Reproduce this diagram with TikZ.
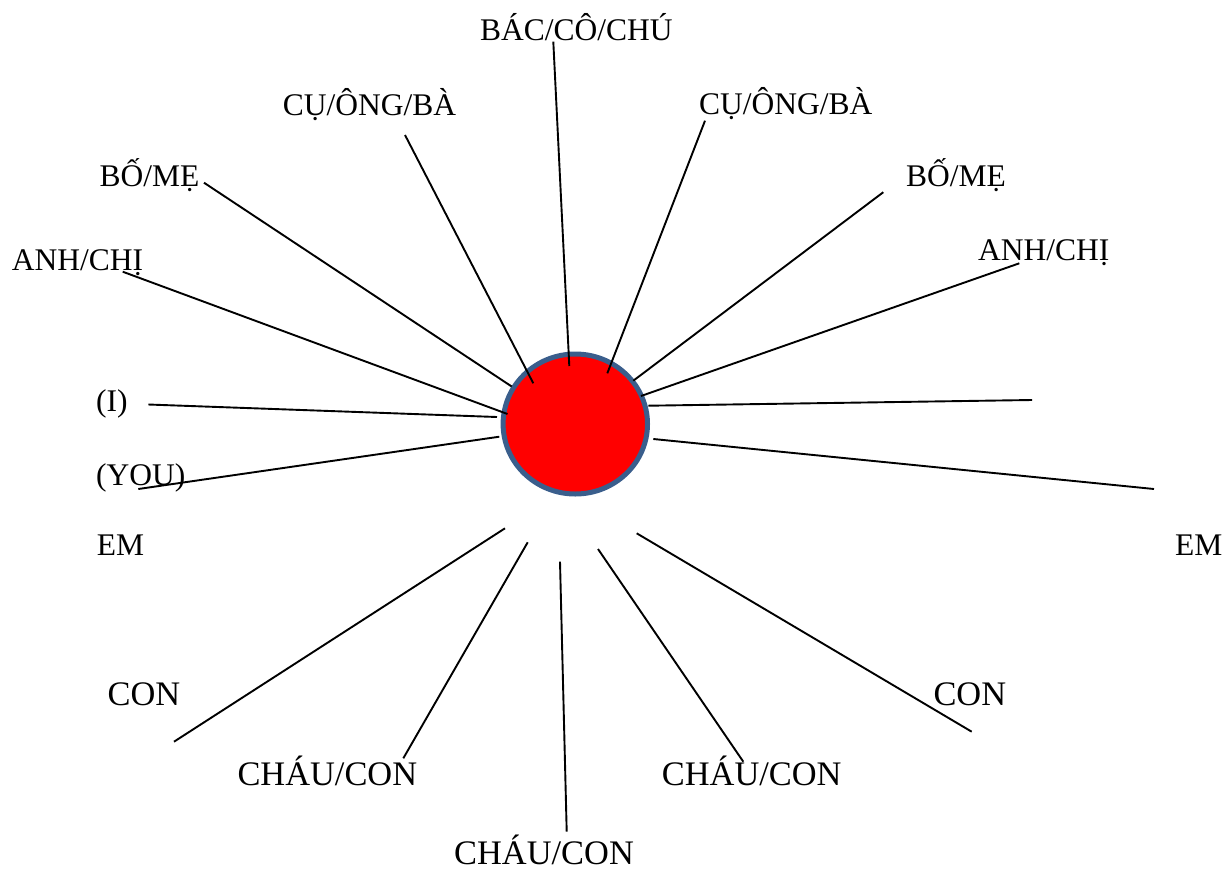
\documentclass[tikz,border=0pt]{standalone}
\usepackage{fontspec}
\setmainfont{Liberation Serif}
\definecolor{ringblue}{HTML}{3A5E8C}
\begin{document}
\begin{tikzpicture}[x=1pt,y=-1pt,
  lbl/.style={anchor=base west,inner sep=0pt,font=\fontsize{31.5}{36}\selectfont},
  biglbl/.style={lbl,font=\fontsize{34.4}{40}\selectfont},
  spoke/.style={draw=black,line width=1.9pt}]
\useasboundingbox (0,0) rectangle (1226,868);
% centre circle
\draw[fill=red,draw=ringblue,line width=5pt] (575.3,424) ellipse [x radius=72.2,y radius=70];
% labels
\node[lbl] (bac) at (480,40) {BÁC/CÔ/CHÚ};
\node[lbl] (cuL) at (282.7,115) {CỤ/ÔNG/BÀ};
\node[lbl] (cuR) at (699,114) {CỤ/ÔNG/BÀ};
\node[lbl] (boL) at (99.3,186.7) {BỐ/MẸ};
\node[lbl] (boR) at (906,186.7) {BỐ/MẸ};
\node[lbl] (anhL) at (11.7,270) {ANH/CHỊ};
\node[lbl] (anhR) at (978,260) {ANH/CHỊ};
\node[lbl] (i) at (96,411.7) {(I)};
\node[lbl] (you) at (96,485) {(YOU)};
\node[lbl] (emL) at (96.7,555) {EM};
\node[lbl] (emR) at (1175,555) {EM};
\node[biglbl] (conL) at (107.5,705) {CON};
\node[biglbl] (conR) at (933.3,705) {CON};
\node[biglbl] (chauL) at (237.3,785) {CHÁU/CON};
\node[biglbl] (chauR) at (661.7,785) {CHÁU/CON};
\node[biglbl] (chauB) at (454,864) {CHÁU/CON};
% spoke end points
\coordinate (a1) at (553.3,41.7);   \coordinate (b1) at (569.3,366);
\coordinate (a2) at (405,135);      \coordinate (b2) at (533.3,383.3);
\coordinate (a3) at (705,120.7);    \coordinate (b3) at (607.3,373.3);
\coordinate (a4) at (204,182.7);    \coordinate (b4) at (511.7,386.5);
\coordinate (a5) at (883.3,192.2);  \coordinate (b5) at (633.3,380.7);
\coordinate (a6) at (122.7,271.7);  \coordinate (b6) at (507.5,414);
\coordinate (a7) at (1019.3,263.3); \coordinate (b7) at (641,396);
\coordinate (a8) at (148.3,404.5);  \coordinate (b8) at (497,417);
\coordinate (a9) at (1032,400);     \coordinate (b9) at (648.3,405.7);
\coordinate (a10) at (138.3,489);   \coordinate (b10) at (499.3,436.7);
\coordinate (a11) at (1154,489);    \coordinate (b11) at (653.3,439);
\coordinate (a12) at (174,741.7);   \coordinate (b12) at (505,528.3);
\coordinate (a13) at (403.3,758.3); \coordinate (b13) at (527.7,542.3);
\coordinate (a14) at (566.7,831.7); \coordinate (b14) at (560,561.7);
\coordinate (a15) at (743.3,761.7); \coordinate (b15) at (598,549);
\coordinate (a16) at (971.7,731.7); \coordinate (b16) at (636.7,533.3);
\foreach \k in {1,...,16} {\draw[spoke] (a\k) -- (b\k);}
\end{tikzpicture}
\end{document}
